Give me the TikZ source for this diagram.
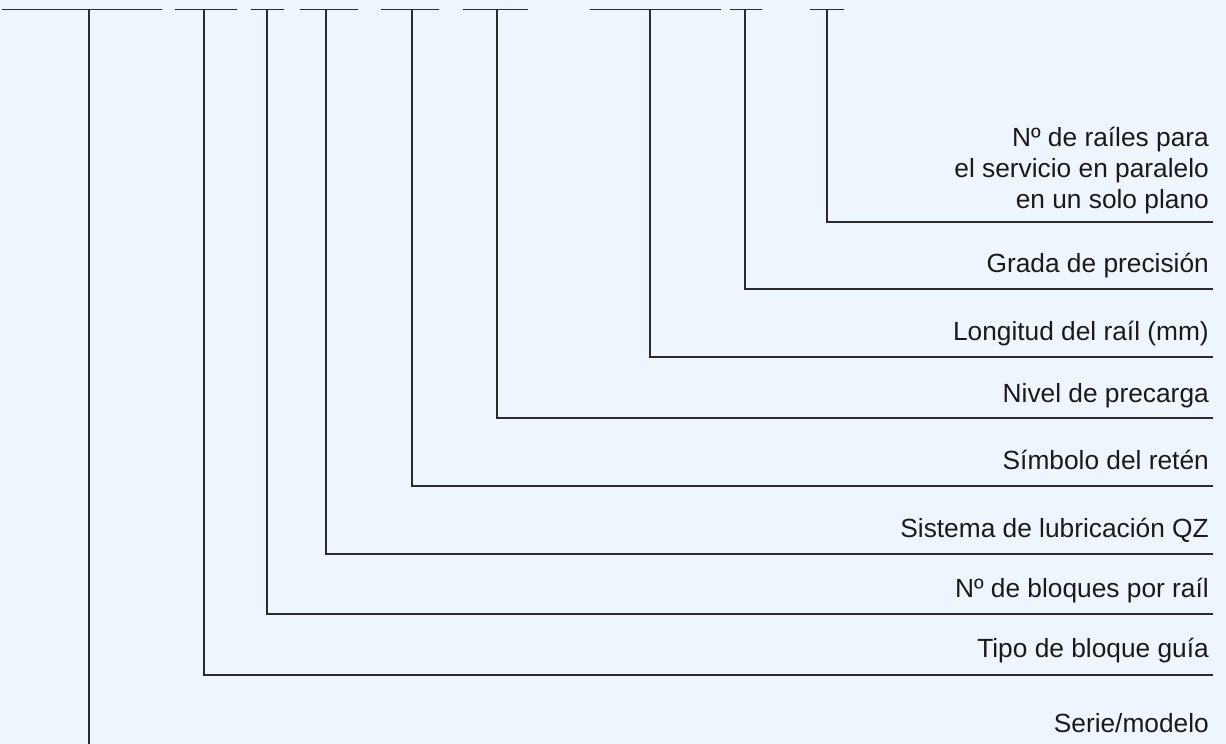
\documentclass[tikz,border=0pt]{standalone}
\usepackage{fontspec}
\setmainfont{Liberation Sans}
\definecolor{bg}{HTML}{EEF5FC}
\definecolor{lc}{HTML}{2A2A2A}
\definecolor{txt}{HTML}{1A1A1A}
\begin{document}
\begin{tikzpicture}[x=1pt,y=-1pt,
  lbl/.style={anchor=base east, inner sep=0pt, font=\fontsize{26.3}{31}\selectfont, text=txt},
  ln/.style={draw=lc, line width=1.3pt}]
\fill[bg] (0,0) rectangle (1226,744);
\useasboundingbox (0,0) rectangle (1226,744);
% top segments
\foreach \a/\b in {2/162,175/237,251/284,300/358,381/439,463/528,590/721,730/762,810/844}
  \draw[ln] (\a,9.5) -- (\b,9.5);
% label nodes
\node[lbl, align=right] (n9) at (1209,208) {Nº de raíles para\\el servicio en paralelo\\en un solo plano};
\node[lbl] (n8) at (1209,272) {Grada de precisión};
\node[lbl] (n7) at (1209,340) {Longitud del raíl (mm)};
\node[lbl] (n6) at (1209,402) {Nivel de precarga};
\node[lbl] (n5) at (1209,469) {Símbolo del retén};
\node[lbl] (n4) at (1209,537) {Sistema de lubricación QZ};
\node[lbl] (n3) at (1209,597) {Nº de bloques por raíl};
\node[lbl] (n2) at (1209,657) {Tipo de bloque guía};
\node[lbl] (n1) at (1209,732) {Serie/modelo};
% coordinates
\coordinate (t9) at (827,9.5);  \coordinate (c9) at (827,222); \coordinate (e9) at (1213,222);
\coordinate (t8) at (745,9.5);  \coordinate (c8) at (745,289); \coordinate (e8) at (1213,289);
\coordinate (t7) at (650,9.5);  \coordinate (c7) at (650,357); \coordinate (e7) at (1213,357);
\coordinate (t6) at (497,9.5);  \coordinate (c6) at (497,418); \coordinate (e6) at (1213,418);
\coordinate (t5) at (412,9.5);  \coordinate (c5) at (412,486); \coordinate (e5) at (1213,486);
\coordinate (t4) at (326,9.5);  \coordinate (c4) at (326,554); \coordinate (e4) at (1213,554);
\coordinate (t3) at (267,9.5);  \coordinate (c3) at (267,614); \coordinate (e3) at (1213,614);
\coordinate (t2) at (204,9.5);  \coordinate (c2) at (204,675); \coordinate (e2) at (1213,675);
\coordinate (t1) at (89,9.5);   \coordinate (c1) at (89,744);
\foreach \i in {2,...,9}
  \draw[ln] (t\i) -- (c\i) -- (e\i);
\draw[ln] (t1) -- (c1);
\end{tikzpicture}
\end{document}
